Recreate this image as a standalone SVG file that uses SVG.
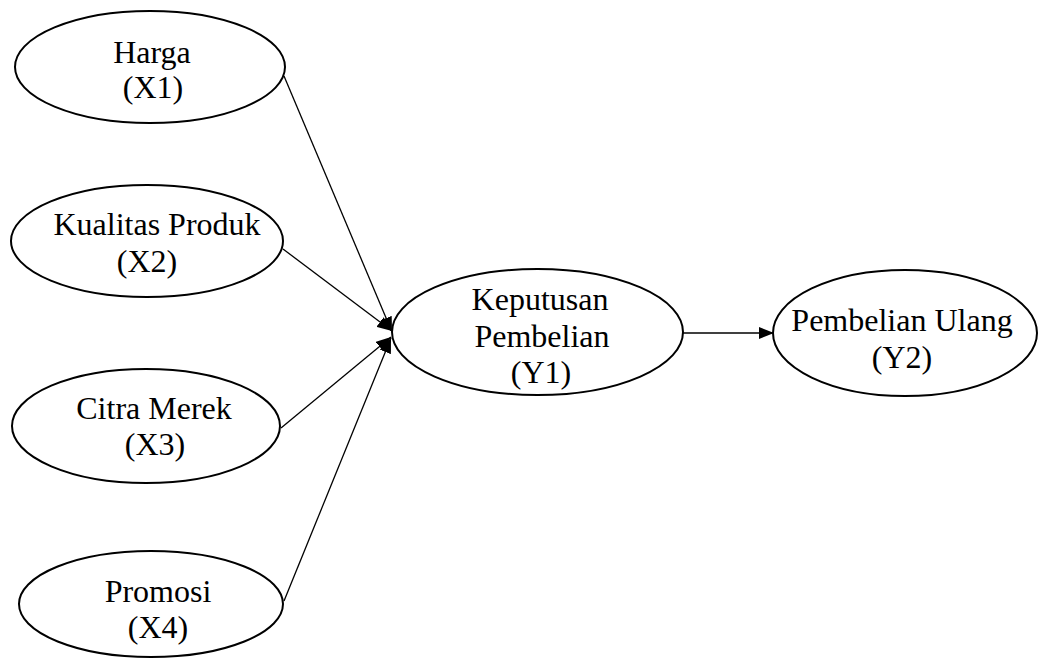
<svg xmlns="http://www.w3.org/2000/svg" width="1040" height="659" viewBox="0 0 1040 659">
<style>
.node ellipse{fill:#fff;stroke:#000;stroke-width:2}
.node text{font-family:"Liberation Serif","Times New Roman",serif;font-size:32px;fill:#000;text-anchor:middle}
.edge{stroke:#000;stroke-width:1.3;fill:none;marker-end:url(#arr)}
</style>
<defs>
<marker id="arr" markerUnits="userSpaceOnUse" markerWidth="16" markerHeight="12" refX="15" refY="6" orient="auto">
<path d="M0,0 L15,6 L0,12 z" fill="#000"/>
</marker>
</defs>
<rect width="1040" height="659" fill="#fff"/>
<g id="connectors">
<line class="edge" x1="284" y1="76" x2="392" y2="332"/>
<line class="edge" x1="283" y1="249" x2="392" y2="331"/>
<line class="edge" x1="281" y1="428" x2="391" y2="337"/>
<line class="edge" x1="284" y1="601" x2="391" y2="338"/>
<line class="edge" x1="683" y1="333" x2="774" y2="333"/>
</g>
<g id="harga" class="node">
<ellipse cx="150" cy="67" rx="135" ry="56"/>
<text x="152" y="63">Harga</text>
<text x="153" y="98">(X1)</text>
</g>
<g id="kualitas" class="node">
<ellipse cx="147" cy="241" rx="136" ry="56"/>
<text x="157" y="235">Kualitas Produk</text>
<text x="147" y="272">(X2)</text>
</g>
<g id="citra" class="node">
<ellipse cx="146" cy="426" rx="134" ry="57"/>
<text x="154" y="419">Citra Merek</text>
<text x="155" y="455">(X3)</text>
</g>
<g id="promosi" class="node">
<ellipse cx="151" cy="604" rx="132" ry="53"/>
<text x="158" y="602">Promosi</text>
<text x="158" y="638">(X4)</text>
</g>
<g id="keputusan" class="node">
<ellipse cx="537.5" cy="332" rx="145.5" ry="63"/>
<text x="540" y="310">Keputusan</text>
<text x="542" y="347">Pembelian</text>
<text x="541" y="383">(Y1)</text>
</g>
<g id="ulang" class="node">
<ellipse cx="905" cy="333" rx="132" ry="63"/>
<text x="902" y="331">Pembelian Ulang</text>
<text x="902" y="368">(Y2)</text>
</g>
</svg>
